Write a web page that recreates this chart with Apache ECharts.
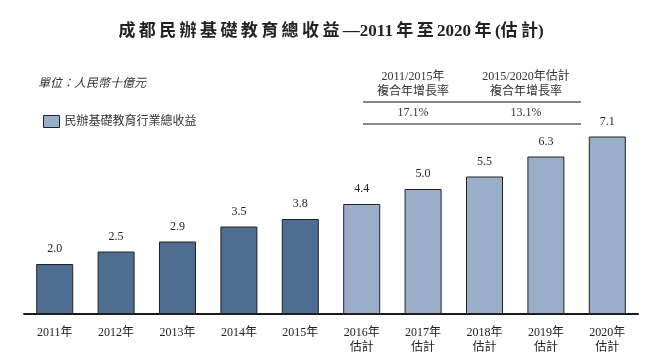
<!DOCTYPE html>
<html><head><meta charset="utf-8">
<script src="https://cdn.jsdelivr.net/npm/echarts@6/dist/echarts.min.js"></script>
<style>html,body{margin:0;padding:0;background:#fff}#c{width:662px;height:360px}</style>
</head><body><div id="c"></div>
<script>
const categories = ['2011年','2012年','2013年','2014年','2015年','2016年\n估計','2017年\n估計','2018年\n估計','2019年\n估計','2020年\n估計'];
const revenue = [2.0, 2.5, 2.9, 3.5, 3.8, 4.4, 5.0, 5.5, 6.3, 7.1];
const isEstimate = [false,false,false,false,false,true,true,true,true,true];
const seriesName = '民辦基礎教育行業總收益';
const cagrHeaders = ['2011/2015年\n複合年增長率', '2015/2020年估計\n複合年增長率'];
const cagrValues = ['17.1%', '13.1%'];
const titleParts = ['成','都','民','辦','基','礎','教','育','總','收','益','—2011','年','至','2020','年','(估','計)'];
const unitText = '單位：人民幣十億元';

const FONT = '"Liberation Serif", "Noto Sans CJK TC", serif';
const DARK = '#4e6e91';
const LIGHT = '#9aadc9';

const chart = echarts.init(document.getElementById('c'));
chart.setOption({
  animation: false,
  backgroundColor: '#fff',
  title: {
    text: titleParts.join('\u2009'), left: 'center', top: 18,
    textStyle: { fontFamily: FONT, fontSize: 17, fontWeight: 'bold', color: '#222' }
  },
  legend: {
    left: 38, top: 110, itemWidth: 16, itemHeight: 12, itemGap: 8,
    icon: 'rect',
    data: [{ name: seriesName, itemStyle: { color: LIGHT, borderColor: '#222', borderWidth: 1 } }],
    textStyle: { fontFamily: FONT, fontSize: 12, color: '#333' }
  },
  grid: { left: 24, right: 24, top: 114, bottom: 46, containLabel: false },
  xAxis: {
    type: 'category', data: categories,
    axisLine: { lineStyle: { color: '#1a1a1a', width: 2 } },
    axisTick: { show: false },
    axisLabel: { fontFamily: FONT, fontSize: 12, color: '#222', margin: 11, lineHeight: 15 }
  },
  yAxis: { type: 'value', min: 0, max: 8, show: false, splitLine: { show: false } },
  series: [{
    name: seriesName, type: 'bar', barWidth: 37,
    data: revenue.map((v, i) => ({ value: v, itemStyle: { color: isEstimate[i] ? LIGHT : DARK } })),
    itemStyle: { borderColor: '#222', borderWidth: 1 },
    label: {
      show: true, position: 'top', distance: 9,
      formatter: p => p.value.toFixed(1),
      fontFamily: FONT, fontSize: 12, color: '#222'
    }
  }],
  graphic: [
    { type: 'text', left: 38, top: 78, style: { text: unitText, font: 'italic 12px ' + FONT, fill: '#333' } },
    { type: 'text', x: 413, y: 84, style: { text: cagrHeaders[0], font: '12px ' + FONT, fill: '#333', align: 'center', verticalAlign: 'middle', lineHeight: 15 } },
    { type: 'text', x: 526, y: 84, style: { text: cagrHeaders[1], font: '12px ' + FONT, fill: '#333', align: 'center', verticalAlign: 'middle', lineHeight: 15 } },
    { type: 'line', shape: { x1: 363, y1: 102, x2: 581, y2: 102 }, style: { stroke: '#111', lineWidth: 1 } },
    { type: 'text', x: 413, y: 113, style: { text: cagrValues[0], font: '12px ' + FONT, fill: '#333', align: 'center', verticalAlign: 'middle' } },
    { type: 'text', x: 526, y: 113, style: { text: cagrValues[1], font: '12px ' + FONT, fill: '#333', align: 'center', verticalAlign: 'middle' } },
    { type: 'line', shape: { x1: 363, y1: 124, x2: 581, y2: 124 }, style: { stroke: '#111', lineWidth: 1 } }
  ]
});
</script></body></html>
